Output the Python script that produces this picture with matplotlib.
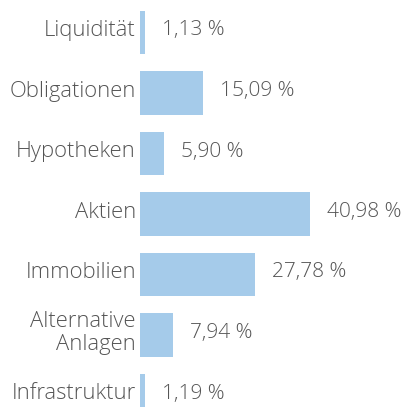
import matplotlib.pyplot as plt

categories = ['Liquidität', 'Obligationen', 'Hypotheken', 'Aktien',
              'Immobilien', 'Alternative\nAnlagen', 'Infrastruktur']
values = [1.13, 15.09, 5.90, 40.98, 27.78, 7.94, 1.19]
value_labels = ['1,13 %', '15,09 %', '5,90 %', '40,98 %', '27,78 %', '7,94 %', '1,19 %']

BAR_COLOR = '#a5cbea'
TEXT_COLOR = '#555555'
plt.rcParams['font.family'] = ['Open Sans', 'DejaVu Sans']

fig = plt.figure(figsize=(4.05, 4.07), dpi=100)
ax = fig.add_axes([140 / 405, 0, 265 / 405, 1])

pos = list(range(len(categories)))
ax.barh(pos, values, height=0.727, color=BAR_COLOR)
ax.set_xlim(0, 265 / 4.15)
ax.set_ylim((407 - 32.5) / 60.5, -32.5 / 60.5)
ax.set_xticks([])
ax.set_yticks([])
for s in ax.spines.values():
    s.set_visible(False)

for p, cat in zip(pos, categories):
    ax.annotate(cat, (0, p), xytext=(-4, 2), textcoords='offset pixels',
                va='center', ha='right', multialignment='right', linespacing=1.15,
                fontsize=15.8, color=TEXT_COLOR, fontweight='light',
                annotation_clip=False)

for p, v, lab in zip(pos, values, value_labels):
    ax.annotate(lab, (v, p), xytext=(17, 2), textcoords='offset pixels',
                va='center', ha='left', fontsize=15, color=TEXT_COLOR,
                fontweight='light')

fig.savefig('out.png', dpi=100)
